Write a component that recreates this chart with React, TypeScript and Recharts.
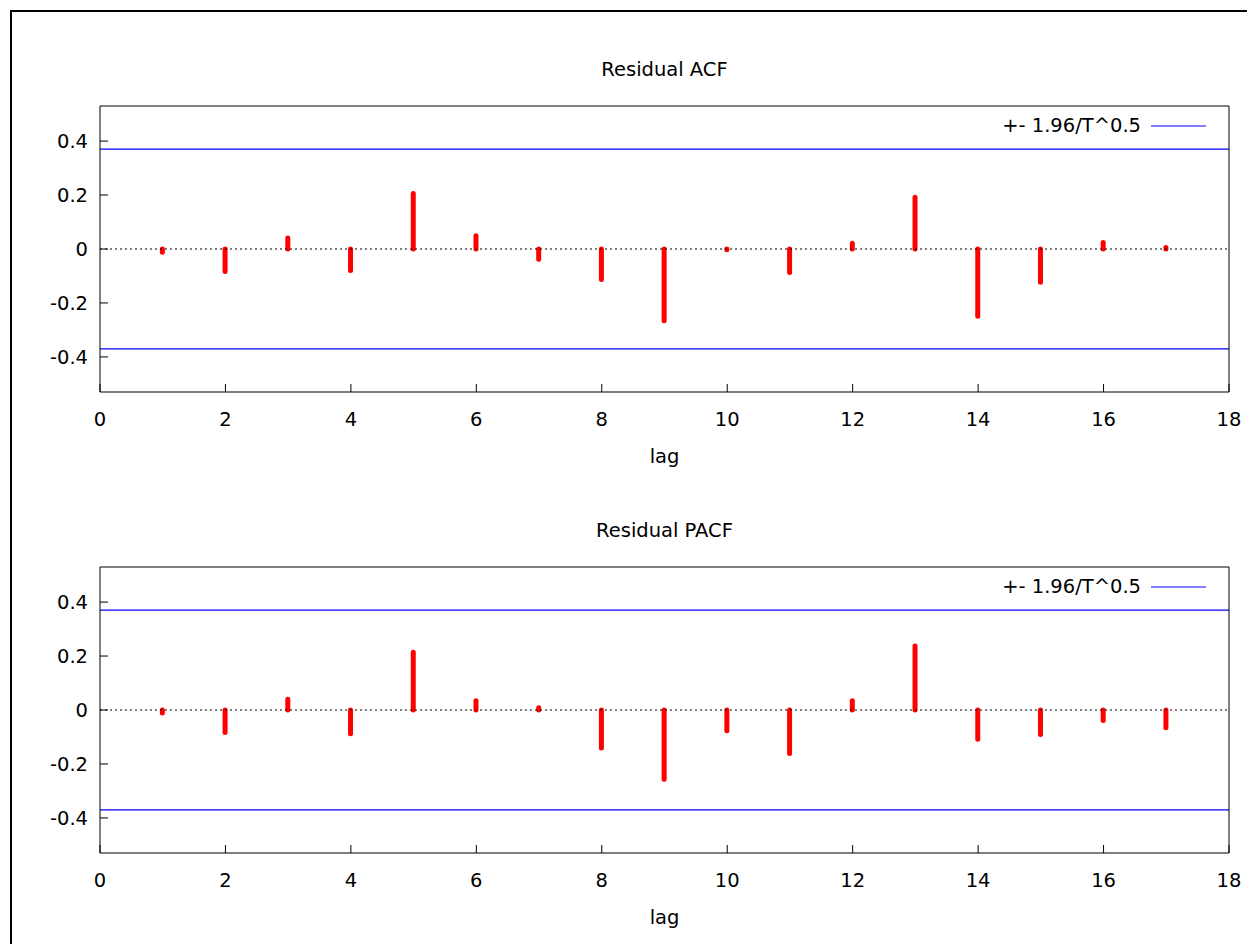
import { ComposedChart, Bar, XAxis, YAxis, ReferenceLine } from 'recharts';

// lags 1..17
const lags = [1, 2, 3, 4, 5, 6, 7, 8, 9, 10, 11, 12, 13, 14, 15, 16, 17];
const acfValues = [-0.012, -0.083, 0.041, -0.08, 0.206, 0.049, -0.038, -0.113, -0.266, -0.003, -0.087, 0.021, 0.192, -0.249, -0.123, 0.024, 0.006];
const pacfValues = [-0.011, -0.083, 0.04, -0.088, 0.214, 0.034, 0.008, -0.141, -0.257, -0.077, -0.161, 0.034, 0.237, -0.108, -0.091, -0.039, -0.066];
const band = 0.3704; // 1.96/T^0.5
const xTicks = [0, 2, 4, 6, 8, 10, 12, 14, 16, 18];
const yTicks = [-0.4, -0.2, 0, 0.2, 0.4];
const yDomain = [-0.53, 0.53];

const FONT = '"DejaVu Sans", Verdana, sans-serif';
const FS = 19.5;
const W = 1247;
const H = 461;
const BLUE = '#0000ff';

const Impulse = (props: any) => {
  const { x, y, width, height } = props;
  const cx = x + width / 2;
  return <line x1={cx} y1={y} x2={cx} y2={y + height} stroke="#ff0000" strokeWidth={5} strokeLinecap="round" />;
};

function CorrPanel({ title, values, top }: { title: string; values: number[]; top: number }) {
  const data = lags.map((lag, i) => ({ lag, value: values[i] }));
  return (
    <div style={{ position: 'absolute', left: 0, top, width: W, height: H }}>
      <ComposedChart width={W} height={H} data={data} margin={{ top: 97, right: 25, bottom: 0, left: 32 }}>
        <XAxis
          dataKey="lag"
          type="number"
          domain={[0, 18]}
          ticks={xTicks}
          interval={0}
          height={77}
          tickSize={-8}
          tickMargin={28}
          stroke="#000"
          tick={{ fill: '#000', fontSize: FS, fontFamily: FONT }}
          label={{ value: 'lag', position: 'insideBottom', offset: 6, fill: '#000', fontSize: FS, fontFamily: FONT }}
        />
        <XAxis xAxisId="top" orientation="top" type="number" domain={[0, 18]} ticks={xTicks} interval={0} height={1} tickSize={-8} tick={false} stroke="#000" />
        <YAxis
          type="number"
          domain={yDomain}
          allowDataOverflow
          ticks={yTicks}
          interval={0}
          width={60}
          tickSize={-8}
          tickMargin={20}
          stroke="#000"
          tick={{ fill: '#000', fontSize: FS, fontFamily: FONT }}
        />
        <YAxis yAxisId="right" orientation="right" type="number" domain={yDomain} allowDataOverflow ticks={yTicks} interval={0} width={1} tickSize={-8} tick={false} stroke="#000" />
        <ReferenceLine y={0} stroke="#000" strokeWidth={1.2} strokeDasharray="2 3" />
        <ReferenceLine y={band} stroke={BLUE} strokeWidth={1.2} />
        <ReferenceLine y={-band} stroke={BLUE} strokeWidth={1.2} />
        <Bar dataKey="value" barSize={6} shape={Impulse} isAnimationActive={false} />
      </ComposedChart>
      <div
        style={{
          position: 'absolute',
          left: 92,
          top: 51,
          width: 1129,
          textAlign: 'center',
          fontFamily: FONT,
          fontSize: FS,
          lineHeight: '22px',
          color: '#000',
        }}
      >
        {title}
      </div>
      <div
        style={{
          position: 'absolute',
          right: 49,
          top: 106,
          height: 24,
          display: 'flex',
          alignItems: 'center',
          fontFamily: FONT,
          fontSize: FS,
          lineHeight: '24px',
          color: '#000',
        }}
      >
        <span>+- 1.96/T^0.5</span>
        <svg width={55} height={24} style={{ marginLeft: 10 }}>
          <line x1={0} y1={12} x2={55} y2={12} stroke={BLUE} strokeWidth={1.2} />
        </svg>
      </div>
    </div>
  );
}

export default function App() {
  return (
    <div style={{ position: 'relative', width: 1247, height: 936, overflow: 'hidden', background: '#fff' }}>
      <div style={{ position: 'absolute', left: 2, top: 2, width: 1300, height: 1000, border: '2px solid #000' }} />
      <CorrPanel title="Residual ACF" values={acfValues} top={0} />
      <CorrPanel title="Residual PACF" values={pacfValues} top={461} />
    </div>
  );
}
